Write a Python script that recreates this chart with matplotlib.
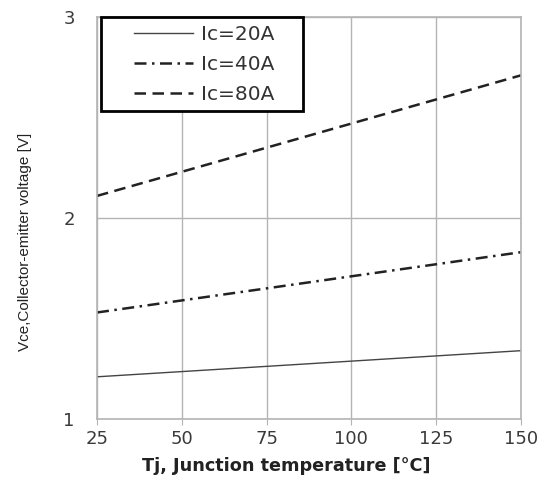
import matplotlib.pyplot as plt
from matplotlib.lines import Line2D
from matplotlib.legend_handler import HandlerLine2D

# junction temperature [C]
tj = [25, 150]

# collector-emitter voltage [V] per collector current
vce_20a = [1.21, 1.34]
vce_40a = [1.53, 1.83]
vce_80a = [2.11, 2.71]

labels = ['Ic=20A', 'Ic=40A', 'Ic=80A']
xticks = [25, 50, 75, 100, 125, 150]
yticks = [1, 2, 3]

plt.rcParams['font.family'] = ['DejaVu Sans']

fig = plt.figure(figsize=(5.45, 4.78), dpi=100)
ax = fig.add_axes([0.178, 0.1234, 0.778, 0.841])

ax.plot(tj, vce_20a, color='#444444', lw=1.0, ls='-', label=labels[0])
ax.plot(tj, vce_40a, color='#222222', lw=1.8, ls=(0, (4.8, 2.2, 1.0, 2.2)), label=labels[1])
ax.plot(tj, vce_80a, color='#222222', lw=1.8, ls=(0, (4.6, 2.6)), label=labels[2])

ax.set_xlim(25, 150)
ax.set_ylim(1, 3)
ax.set_xticks(xticks)
ax.set_yticks(yticks)
ax.grid(True, color='#b4b4b4', lw=1.0)

for s in ax.spines.values():
    s.set_color('#b4b4b4')
    s.set_linewidth(1.2)
ax.tick_params(axis='both', colors='#b4b4b4', labelcolor='#3a3a3a', labelsize=13, length=4)
ax.tick_params(axis='x', pad=4)
ax.tick_params(axis='y', length=0, pad=16)

ax.set_xlabel('Tj, Junction temperature [\u00b0C]', fontsize=12.7, fontweight='bold',
              color='#222222')
ax.xaxis.set_label_coords(0.446, -0.095)
ax.set_ylabel('Vce,Collector-emitter voltage [V]', fontsize=11, color='#222222',
              family=['Liberation Sans Narrow', 'Liberation Sans'])
ax.yaxis.set_label_coords(-0.153, 0.44)

leg = ax.legend(loc='upper left', bbox_to_anchor=(0.0094, 0.0, 0.476, 1.0), mode='expand',
                borderaxespad=0, fontsize=14.5, handlelength=4.18, handletextpad=0.4,
                fancybox=False, framealpha=1, borderpad=0.38, labelspacing=0.55,
                handler_map={Line2D: HandlerLine2D(xpad=1.25)})
leg.get_frame().set_edgecolor('black')
leg.get_frame().set_linewidth(2)
for t in leg.get_texts():
    t.set_color('#333333')

fig.savefig('out.png', dpi=100)
